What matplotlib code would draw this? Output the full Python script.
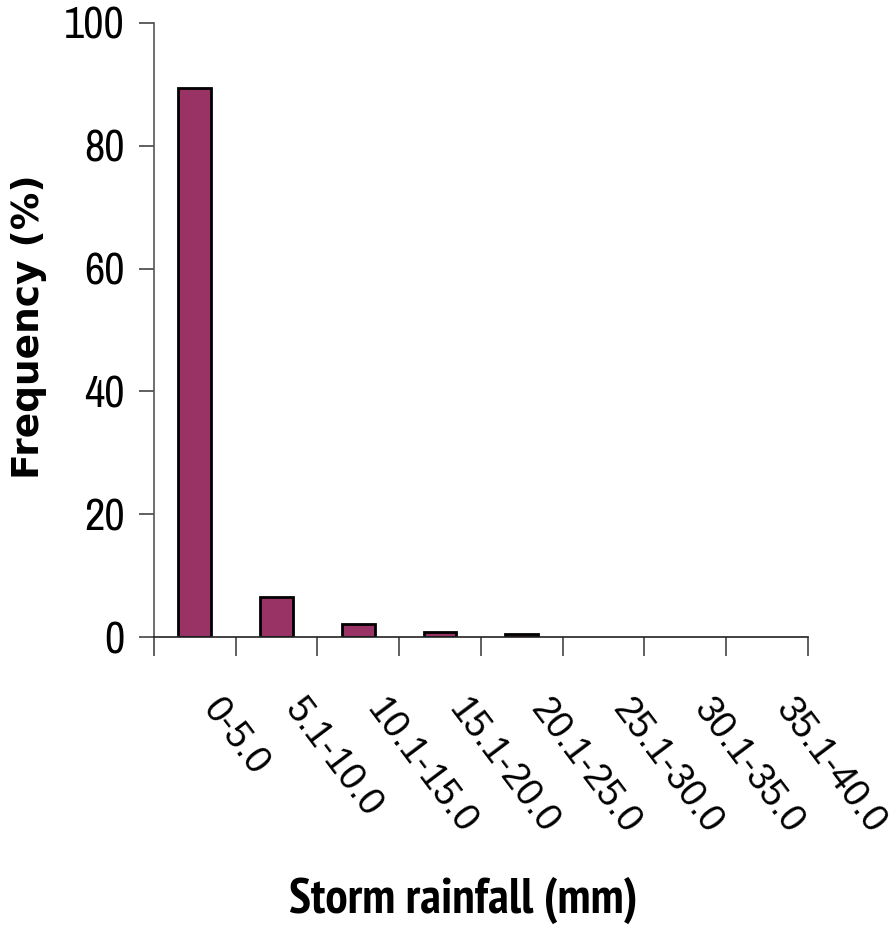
import matplotlib.pyplot as plt
import numpy as np

# Data
categories = ['0-5.0', '5.1-10.0', '10.1-15.0', '15.1-20.0',
              '20.1-25.0', '25.1-30.0', '30.1-35.0', '35.1-40.0']
frequency = [89.4, 6.6, 2.1, 0.85, 0.45, 0.0, 0.0, 0.0]

NARROW = ['Archivo Narrow', 'Liberation Sans']
NARROW_BOLD = ['PT Sans Narrow', 'Fira Sans Condensed', 'Liberation Sans']

fig = plt.figure(figsize=(8.91, 9.27), dpi=100)
ax = fig.add_axes([0.1728, 0.3128, 0.734, 0.6624])

x = np.arange(len(categories))
bars = ax.bar(x, frequency, width=0.4, color='#993366', edgecolor='black', linewidth=2)
# empty classes show no mark in the original
for b, v in zip(bars, frequency):
    if v == 0:
        b.set_visible(False)

ax.set_xlim(-0.5, len(categories) - 0.5)
ax.set_ylim(0, 100)
ax.set_yticks([0, 20, 40, 60, 80, 100])
ax.set_yticklabels(['0', '20', '40', '60', '80', '100'], fontsize=32, family=NARROW)

# category ticks between bars; labels (invisible minor ticks) a bit right of bar centres
ax.set_xticks(np.arange(len(categories) + 1) - 0.5)
ax.set_xticklabels([])
ax.set_xticks(x + 0.36, minor=True)
ax.set_xticklabels(categories, minor=True, rotation=-53, ha='left', va='top',
                   rotation_mode='anchor', fontsize=27, family='Liberation Sans')
ax.tick_params(axis='x', which='minor', length=0, pad=40)
ax.tick_params(axis='x', which='major', length=14, width=1.2, color='#444444')
ax.tick_params(axis='y', length=11, width=1.2, color='#444444', pad=10)

for side in ['top', 'right']:
    ax.spines[side].set_visible(False)
ax.spines['left'].set_color('#555555')
ax.spines['bottom'].set_color('#222222')
ax.spines['left'].set_linewidth(1.2)
ax.spines['bottom'].set_linewidth(1.2)

ax.set_xlabel('Storm rainfall (mm)', fontsize=36, fontweight='bold', family=NARROW_BOLD)
ax.xaxis.set_label_coords(0.4725, -0.39)
ax.set_ylabel('Frequency (%)', fontsize=27, fontweight='bold', family='DejaVu Sans')
ax.yaxis.set_label_coords(-0.163, 0.505)

fig.savefig('out.png', dpi=100)
